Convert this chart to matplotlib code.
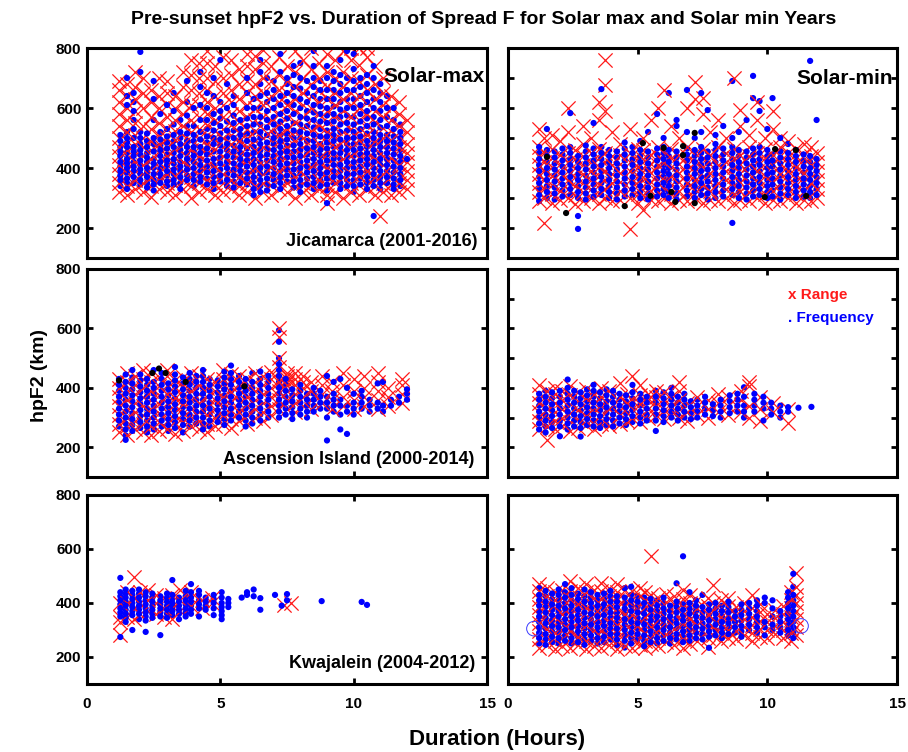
import matplotlib
matplotlib.use("Agg")
import matplotlib.pyplot as plt

plt.rcParams['font.family'] = ['Liberation Sans', 'DejaVu Sans']
plt.rcParams['font.weight'] = 'bold'

# ---------------- data (Duration hours, hpF2 km) ----------------
# Panel A: Jicamarca, solar max
A_DOT_COLS = [
    (1.25, [340, 360, 375, 390, 405, 420, 440, 455, 470, 490, 510]),
    (1.5, [330, 350, 365, 385, 400, 415, 430, 450, 470, 485, 500, 520, 610, 640, 700]),
    (1.75, [350, 370, 390, 405, 420, 440, 455, 470, 500, 530, 560, 590, 620, 650]),
    (2.0, [345, 360, 380, 395, 410, 425, 445, 460, 480, 500, 520, 720, 787]),
    (2.25, [335, 350, 370, 385, 400, 420, 435, 450, 470, 490, 515]),
    (2.5, [325, 345, 360, 380, 400, 415, 430, 455, 480, 500, 560, 630, 690]),
    (2.75, [350, 365, 380, 400, 420, 440, 460, 475, 495, 520, 580]),
    (3.0, [340, 355, 375, 390, 410, 425, 445, 465, 485, 505, 530, 610]),
    (3.25, [345, 360, 380, 395, 415, 430, 450, 470, 490, 510, 545, 590, 650]),
    (3.5, [330, 350, 370, 390, 405, 420, 440, 460, 480, 500, 520, 560]),
    (3.75, [360, 375, 395, 410, 430, 450, 470, 490, 515, 540, 575, 620, 690]),
    (4.0, [340, 360, 380, 400, 420, 440, 455, 470, 490, 510, 540, 600]),
    (4.25, [355, 370, 390, 410, 430, 450, 470, 495, 520, 560, 610, 670, 720]),
    (4.5, [345, 365, 385, 405, 425, 445, 465, 485, 505, 530, 560, 600, 650]),
    (4.75, [330, 350, 370, 390, 410, 430, 455, 480, 500, 525, 550, 580, 640, 700]),
    (5.0, [355, 375, 395, 415, 435, 455, 475, 495, 515, 540, 565, 590, 620, 760]),
    (5.25, [340, 360, 380, 400, 420, 440, 460, 480, 500, 525, 555, 600, 680]),
    (5.5, [335, 355, 375, 395, 415, 435, 455, 475, 500, 525, 550, 575, 610, 640]),
    (5.75, [350, 370, 390, 410, 430, 450, 470, 490, 510, 530, 560]),
    (6.0, [345, 365, 385, 405, 425, 445, 465, 490, 515, 540, 565, 600, 650, 700]),
    (6.25, [310, 330, 350, 370, 390, 410, 430, 450, 470, 495, 520, 545, 570, 600, 630]),
    (6.5, [320, 340, 360, 380, 400, 420, 440, 460, 480, 500, 520, 545, 570, 600, 640, 680, 720, 760]),
    (6.75, [325, 345, 365, 385, 405, 425, 445, 465, 485, 510, 535, 560, 590, 620, 650, 700]),
    (7.0, [340, 360, 380, 400, 420, 440, 460, 480, 500, 520, 545, 570, 600, 630, 660, 690]),
    (7.25, [330, 350, 370, 390, 410, 430, 450, 470, 490, 510, 530, 555, 580, 610, 640, 720, 780]),
    (7.5, [355, 375, 395, 415, 435, 455, 475, 495, 515, 540, 565, 590, 620, 650, 680, 700]),
    (7.75, [335, 355, 375, 395, 415, 435, 455, 475, 500, 525, 550, 580, 610, 640, 670, 710, 740]),
    (8.0, [320, 340, 360, 380, 400, 420, 440, 460, 480, 500, 520, 545, 570, 600, 630, 665, 700, 750]),
    (8.25, [345, 365, 385, 405, 425, 445, 465, 490, 515, 540, 565, 590, 620, 650, 690]),
    (8.5, [330, 350, 370, 390, 410, 430, 450, 470, 490, 510, 535, 560, 585, 610, 640, 670, 700, 740, 790]),
    (8.75, [340, 360, 380, 400, 420, 440, 460, 480, 505, 530, 555, 580, 605, 630, 660, 690]),
    (9.0, [283, 325, 345, 365, 385, 405, 425, 445, 465, 485, 505, 525, 550, 575, 600, 630, 660, 700, 740]),
    (9.25, [350, 370, 390, 410, 430, 450, 470, 490, 510, 530, 555, 580, 605, 630, 660, 690, 720]),
    (9.5, [330, 350, 370, 390, 410, 430, 450, 470, 495, 520, 545, 570, 595, 620, 650, 680, 710, 760]),
    (9.75, [340, 360, 380, 400, 420, 440, 460, 480, 500, 525, 550, 575, 600, 630, 660, 700, 790]),
    (10.0, [320, 340, 360, 380, 400, 420, 440, 460, 480, 500, 520, 545, 570, 600, 630, 660, 690, 730, 780]),
    (10.25, [345, 365, 385, 405, 425, 445, 465, 485, 505, 530, 555, 580, 610, 640, 670, 700]),
    (10.5, [330, 350, 370, 390, 410, 430, 450, 470, 490, 515, 540, 565, 590, 620, 650, 680, 710]),
    (10.75, [240, 340, 360, 380, 400, 420, 440, 460, 480, 500, 520, 545, 570, 600, 630, 660, 700, 740]),
    (11.0, [330, 350, 370, 390, 410, 430, 450, 470, 490, 510, 535, 560, 590, 620, 650, 680]),
    (11.25, [350, 370, 390, 410, 430, 450, 470, 490, 510, 540, 570, 600, 640]),
    (11.5, [330, 345, 365, 385, 405, 425, 445, 465, 485, 505, 530, 560, 600]),
    (11.75, [340, 360, 380, 400, 420, 440, 460, 480, 500, 520, 545]),
    (12.0, [430]),
]
A_X_COLS = [
    (1.2, [320, 350, 380, 410, 440, 470, 500, 540, 580, 620, 660, 690]),
    (1.5, [310, 340, 370, 400, 430, 460, 490, 520, 560, 600, 640, 680]),
    (1.8, [330, 360, 390, 420, 450, 480, 510, 550, 590, 630, 670, 720]),
    (2.1, [320, 350, 380, 410, 440, 470, 500, 540, 600, 650, 700]),
    (2.4, [305, 340, 370, 400, 430, 460, 490, 530, 570, 620, 660]),
    (2.7, [330, 360, 390, 420, 450, 480, 510, 550, 600, 640, 700]),
    (3.0, [320, 350, 380, 410, 440, 470, 500, 530, 570, 610, 650, 690]),
    (3.3, [310, 345, 375, 405, 435, 465, 495, 525, 560, 600, 640]),
    (3.6, [330, 360, 390, 420, 450, 480, 510, 540, 580, 620, 670, 720]),
    (3.9, [300, 340, 370, 400, 430, 460, 490, 520, 560, 610, 660, 710, 760]),
    (4.2, [320, 350, 380, 410, 440, 470, 500, 530, 570, 610, 650, 700, 750]),
    (4.5, [330, 360, 390, 420, 450, 480, 510, 545, 580, 620, 660, 700, 750, 790]),
    (4.8, [310, 345, 375, 405, 435, 465, 495, 525, 560, 600, 640, 690, 740]),
    (5.1, [320, 350, 380, 410, 440, 470, 500, 530, 570, 610, 650, 700, 770]),
    (5.4, [330, 360, 390, 420, 450, 480, 510, 545, 580, 620, 660, 710, 760]),
    (5.7, [310, 340, 370, 400, 430, 460, 490, 520, 555, 590, 630, 680, 730]),
    (6.0, [320, 350, 380, 410, 440, 470, 500, 530, 570, 610, 650, 690, 740, 780]),
    (6.3, [300, 340, 370, 400, 430, 460, 490, 525, 560, 600, 640, 680, 730, 775]),
    (6.6, [320, 350, 380, 410, 440, 470, 500, 530, 570, 610, 650, 700, 750, 795]),
    (6.9, [310, 345, 375, 405, 435, 465, 495, 525, 560, 600, 640, 690, 740]),
    (7.2, [330, 360, 390, 420, 450, 480, 510, 545, 580, 620, 660, 710, 770]),
    (7.5, [320, 350, 380, 410, 440, 470, 500, 530, 570, 610, 650, 690, 740]),
    (7.8, [300, 340, 370, 400, 430, 460, 490, 520, 555, 590, 630, 670, 720, 790]),
    (8.1, [320, 350, 380, 410, 440, 470, 500, 535, 570, 610, 650, 700, 760]),
    (8.4, [310, 345, 375, 405, 435, 465, 495, 525, 560, 600, 640, 680, 730, 800]),
    (8.7, [330, 360, 390, 420, 450, 480, 510, 545, 580, 620, 660, 700, 750]),
    (9.0, [283, 310, 340, 370, 400, 430, 460, 490, 520, 555, 590, 630, 670, 720, 780]),
    (9.3, [320, 350, 380, 410, 440, 470, 500, 535, 570, 610, 650, 700, 760]),
    (9.6, [300, 340, 370, 400, 430, 460, 490, 520, 555, 590, 630, 670, 720, 790]),
    (9.9, [320, 350, 380, 410, 440, 470, 500, 530, 570, 610, 650, 700, 760, 800]),
    (10.2, [310, 345, 375, 405, 435, 465, 495, 525, 560, 600, 640, 690, 745, 800]),
    (10.5, [330, 360, 390, 420, 450, 480, 510, 545, 580, 620, 660, 710, 770, 800]),
    (10.8, [310, 340, 370, 400, 430, 460, 490, 520, 555, 590, 630, 680, 740]),
    (11.0, [240]),
    (11.1, [320, 350, 380, 410, 440, 470, 500, 535, 570, 610, 650, 700]),
    (11.4, [310, 345, 375, 405, 435, 465, 495, 525, 560, 600, 640]),
    (11.7, [320, 350, 380, 410, 440, 470, 500, 540, 580, 620]),
    (12.0, [330, 360, 390, 420, 450, 480, 520, 560]),
]

# Panel B: Jicamarca, solar min
B_DOT_COLS = [
    (1.2, [290, 310, 330, 350, 370, 390, 410, 430, 450, 470]),
    (1.5, [300, 320, 340, 360, 380, 400, 420, 440, 460, 530]),
    (1.8, [295, 315, 335, 355, 375, 395, 415, 435, 455]),
    (2.1, [305, 325, 345, 365, 385, 405, 425, 445, 465]),
    (2.4, [310, 330, 350, 370, 390, 410, 430, 450, 470, 583]),
    (2.7, [197, 240, 300, 320, 340, 360, 380, 400, 420, 440]),
    (3.0, [295, 315, 335, 355, 375, 395, 415, 435, 455, 475]),
    (3.3, [305, 325, 345, 365, 385, 405, 425, 445, 465, 550]),
    (3.6, [310, 330, 350, 370, 390, 410, 430, 450, 470, 663]),
    (3.9, [300, 320, 340, 360, 380, 400, 420, 440, 460]),
    (4.2, [295, 315, 335, 355, 375, 395, 415, 435, 455]),
    (4.5, [305, 325, 345, 365, 385, 405, 425, 445, 465, 485]),
    (4.8, [310, 330, 350, 370, 390, 410, 430, 450, 470]),
    (5.1, [300, 320, 340, 360, 380, 400, 420, 440, 460, 490]),
    (5.4, [295, 315, 335, 355, 375, 395, 415, 435, 455, 520]),
    (5.75, [305, 325, 345, 365, 385, 405, 425, 445, 465, 580]),
    (6.0, [310, 330, 350, 370, 390, 410, 430, 450, 470, 500]),
    (6.2, [300, 320, 340, 360, 380, 400, 420, 440, 460, 650]),
    (6.5, [295, 315, 335, 355, 375, 395, 415, 435, 455, 540, 560]),
    (6.9, [305, 325, 345, 365, 385, 405, 425, 445, 465, 520, 660]),
    (7.2, [300, 320, 340, 360, 380, 400, 420, 440, 460, 500]),
    (7.45, [310, 330, 350, 370, 390, 410, 430, 450, 470, 520, 650]),
    (7.7, [295, 315, 335, 355, 375, 395, 415, 435, 455, 593]),
    (8.0, [300, 320, 340, 360, 380, 400, 420, 440, 460, 480, 510]),
    (8.3, [305, 325, 345, 365, 385, 405, 425, 445, 465, 540]),
    (8.65, [217, 310, 330, 350, 370, 390, 410, 430, 450, 470, 500, 690]),
    (8.9, [300, 320, 340, 360, 380, 400, 420, 440, 460, 520]),
    (9.2, [295, 315, 335, 355, 375, 395, 415, 435, 455, 560]),
    (9.45, [305, 325, 345, 365, 385, 405, 425, 445, 465, 633, 707]),
    (9.7, [310, 330, 350, 370, 390, 410, 430, 450, 470, 590, 623]),
    (10.0, [300, 320, 340, 360, 380, 400, 420, 440, 460, 530]),
    (10.2, [305, 325, 345, 365, 385, 405, 425, 445, 633]),
    (10.5, [295, 315, 335, 355, 375, 395, 415, 435, 455, 500]),
    (10.8, [310, 330, 350, 370, 390, 410, 430, 450, 480]),
    (11.1, [300, 320, 340, 360, 380, 400, 420, 440, 460]),
    (11.4, [305, 325, 345, 365, 385, 405, 425, 445]),
    (11.65, [300, 320, 340, 360, 380, 400, 420, 440, 757]),
    (11.9, [310, 330, 350, 370, 390, 410, 430, 560]),
]
B_X_COLS = [
    (1.2, [290, 320, 350, 380, 410, 440, 470, 530]),
    (1.4, [217, 300, 330, 360, 390, 420, 450, 500]),
    (1.7, [285, 315, 345, 375, 405, 435, 465, 510]),
    (2.0, [295, 325, 355, 385, 415, 445, 490]),
    (2.3, [300, 330, 360, 390, 420, 450, 520, 600]),
    (2.6, [280, 310, 340, 370, 400, 430, 460]),
    (2.9, [290, 320, 350, 380, 410, 440, 480, 540]),
    (3.2, [300, 330, 360, 390, 420, 450, 500]),
    (3.5, [285, 315, 345, 375, 405, 435, 465, 560, 620]),
    (3.75, [300, 330, 360, 390, 420, 450, 590, 677, 760]),
    (4.0, [290, 320, 350, 380, 410, 440, 520]),
    (4.3, [295, 325, 355, 385, 415, 445, 480]),
    (4.7, [197, 300, 330, 360, 390, 420, 450, 530]),
    (5.0, [285, 315, 345, 375, 405, 435, 465]),
    (5.2, [260, 310, 340, 370, 400, 430, 460, 500]),
    (5.5, [295, 325, 355, 385, 415, 445, 560]),
    (5.8, [290, 320, 350, 380, 410, 440, 470, 600]),
    (6.0, [300, 330, 360, 390, 420, 450, 660]),
    (6.3, [285, 315, 345, 375, 405, 435, 465, 540]),
    (6.6, [295, 325, 355, 385, 415, 445, 500]),
    (6.9, [290, 320, 350, 380, 410, 440, 470, 600]),
    (7.2, [300, 330, 360, 390, 420, 450, 630, 687]),
    (7.5, [285, 315, 345, 375, 405, 435, 465, 580, 633]),
    (7.8, [295, 325, 355, 385, 415, 445, 520]),
    (8.1, [290, 320, 350, 380, 410, 440, 470, 560]),
    (8.4, [300, 330, 360, 390, 420, 450, 500]),
    (8.7, [285, 315, 345, 375, 405, 435, 465, 700]),
    (8.95, [295, 325, 355, 385, 415, 445, 540, 593]),
    (9.3, [290, 320, 350, 380, 410, 440, 470, 510]),
    (9.6, [300, 330, 360, 390, 420, 450, 560, 620]),
    (9.9, [285, 315, 345, 375, 405, 435, 465, 500]),
    (10.2, [295, 325, 355, 385, 415, 445, 530, 590]),
    (10.5, [290, 320, 350, 380, 410, 440, 470, 500]),
    (10.8, [300, 330, 360, 390, 420, 450, 490]),
    (11.1, [285, 315, 345, 375, 405, 435, 465]),
    (11.4, [295, 325, 355, 385, 415, 445, 480]),
    (11.7, [290, 320, 350, 380, 410, 440, 470]),
    (11.9, [300, 330, 360, 390, 420, 450]),
]
B_BLACK_X = [1.5, 2.24, 5.2, 6.0, 6.75, 7.2, 6.75, 4.5, 5.5, 6.45, 7.2, 9.9, 10.3, 11.1, 11.5, 6.3]
B_BLACK_Y = [437, 250, 483, 467, 473, 517, 443, 273, 307, 287, 283, 303, 463, 460, 307, 320]

# Panel C: Ascension Island, solar max
C_DOT_COLS = [
    (1.2, [270, 290, 310, 330, 350, 370, 390, 410, 430]),
    (1.45, [225, 240, 260, 280, 300, 320, 340, 360, 380, 400, 420, 445]),
    (1.7, [255, 275, 295, 315, 335, 355, 375, 395, 415, 435, 460]),
    (2.0, [265, 285, 305, 325, 345, 365, 385, 405, 425, 445]),
    (2.25, [250, 270, 290, 310, 330, 350, 370, 390, 410, 430]),
    (2.5, [260, 280, 300, 320, 340, 360, 380, 400, 420, 460]),
    (2.8, [270, 290, 310, 330, 350, 370, 390, 410, 430, 450]),
    (3.05, [255, 275, 295, 315, 335, 355, 375, 395, 415]),
    (3.3, [265, 285, 305, 325, 345, 365, 385, 405, 425, 445, 470]),
    (3.6, [250, 275, 295, 315, 335, 355, 375, 395, 415, 435]),
    (3.85, [270, 290, 310, 330, 350, 370, 390, 410, 430, 450]),
    (4.1, [280, 300, 320, 340, 360, 380, 400, 420, 440]),
    (4.35, [260, 280, 300, 320, 340, 360, 380, 400, 420, 440, 460]),
    (4.6, [270, 290, 310, 330, 350, 370, 390, 410, 430]),
    (4.9, [285, 305, 325, 345, 365, 385, 405, 425]),
    (5.15, [275, 295, 315, 335, 355, 375, 395, 415, 435, 455]),
    (5.4, [290, 310, 330, 350, 370, 390, 410, 430, 450, 475]),
    (5.7, [300, 320, 340, 360, 380, 400, 420, 440]),
    (5.95, [270, 290, 310, 330, 350, 370, 390, 410, 430]),
    (6.2, [280, 300, 320, 340, 360, 380, 400, 420, 450]),
    (6.5, [290, 310, 330, 350, 370, 390, 410, 430, 455]),
    (6.8, [300, 320, 340, 360, 380, 400, 420, 440]),
    (7.2, [300, 320, 340, 360, 380, 400, 420, 440, 460, 480, 500, 555, 594]),
    (7.45, [310, 330, 350, 370, 390, 410, 430]),
    (7.7, [295, 315, 335, 355, 375, 395]),
    (8.0, [310, 330, 350, 370, 390, 410]),
    (8.25, [300, 320, 340, 360, 380]),
    (8.5, [320, 340, 360, 380, 400]),
    (8.75, [330, 350, 370, 390]),
    (9.0, [223, 300, 330, 350, 370, 440]),
    (9.25, [320, 340, 360, 380, 420]),
    (9.5, [260, 310, 340, 360, 430]),
    (9.75, [245, 320, 340, 400]),
    (10.0, [310, 330, 350, 380]),
    (10.3, [330, 350, 370, 390]),
    (10.6, [320, 340, 360]),
    (10.9, [330, 350, 415]),
    (11.1, [320, 340, 420]),
    (11.4, [340, 360]),
    (11.7, [350, 370]),
    (12.0, [360, 380, 395]),
]
C_X_COLS = [
    (1.2, [250, 280, 310, 340, 370, 400, 430]),
    (1.5, [240, 270, 300, 330, 360, 390, 420, 450]),
    (1.8, [260, 290, 320, 350, 380, 410, 440]),
    (2.1, [250, 280, 310, 340, 370, 400, 430, 460]),
    (2.4, [240, 270, 300, 330, 360, 390, 420, 450]),
    (2.7, [255, 285, 315, 345, 375, 405, 435]),
    (3.0, [260, 290, 320, 350, 380, 410, 440, 460]),
    (3.3, [245, 275, 305, 335, 365, 395, 425]),
    (3.6, [255, 285, 315, 345, 375, 405, 435]),
    (3.9, [270, 300, 330, 360, 390, 420, 450]),
    (4.2, [260, 290, 320, 350, 380, 410, 440]),
    (4.5, [250, 280, 310, 340, 370, 400, 430]),
    (4.8, [270, 300, 330, 360, 390, 420]),
    (5.1, [280, 310, 340, 370, 400, 430, 460]),
    (5.4, [265, 295, 325, 355, 385, 415, 445]),
    (5.7, [290, 320, 350, 380, 410, 440]),
    (6.0, [280, 310, 340, 370, 400, 430]),
    (6.3, [300, 330, 360, 390, 420, 450]),
    (6.6, [290, 320, 350, 380, 410, 440]),
    (6.9, [310, 340, 370, 400, 430, 455]),
    (7.2, [330, 360, 390, 420, 470, 500, 570, 600]),
    (7.5, [330, 360, 390, 410, 420, 430, 440, 450]),
    (7.8, [320, 350, 380, 410, 430, 450]),
    (8.1, [340, 370, 400, 420, 440]),
    (8.4, [330, 360, 390, 420]),
    (8.8, [350, 380, 410, 440]),
    (9.2, [330, 360, 390, 420]),
    (9.6, [340, 370, 410, 450]),
    (10.0, [330, 360, 390, 430]),
    (10.4, [340, 370, 400, 440]),
    (10.9, [330, 360, 390, 420, 450]),
    (11.3, [340, 370, 400]),
    (11.8, [350, 380, 410, 430]),
]
C_BLACK_X = [1.2, 2.45, 2.7, 2.95, 3.7, 5.9]
C_BLACK_Y = [425, 450, 465, 450, 420, 405]

# Panel D: Ascension Island, solar min
D_DOT_COLS = [
    (1.2, [260, 280, 300, 320, 340, 360, 380]),
    (1.45, [250, 270, 290, 310, 330, 350, 370, 390]),
    (1.7, [265, 285, 305, 325, 345, 365, 385]),
    (2.0, [237, 270, 290, 310, 330, 350, 370, 390]),
    (2.3, [260, 280, 300, 320, 340, 360, 380, 400, 428]),
    (2.55, [270, 290, 310, 330, 350, 370, 390]),
    (2.8, [236, 265, 285, 305, 325, 345, 365, 385]),
    (3.05, [275, 295, 315, 335, 355, 375, 395]),
    (3.3, [270, 290, 310, 330, 350, 370, 390, 410]),
    (3.55, [265, 285, 305, 325, 345, 365, 385]),
    (3.8, [275, 295, 315, 335, 355, 375, 395]),
    (4.05, [270, 290, 310, 330, 350, 370, 390]),
    (4.3, [280, 300, 320, 340, 360, 380]),
    (4.55, [275, 295, 315, 335, 355, 375]),
    (4.8, [285, 305, 325, 345, 365, 385, 410]),
    (5.1, [280, 300, 320, 340, 360, 380]),
    (5.35, [290, 310, 330, 350, 370]),
    (5.7, [255, 290, 310, 330, 350, 370, 390]),
    (6.0, [285, 305, 325, 345, 365, 385]),
    (6.3, [300, 320, 340, 360, 380, 400]),
    (6.55, [290, 310, 330, 350, 370]),
    (6.8, [300, 320, 340, 360, 380]),
    (7.05, [295, 315, 335, 355]),
    (7.3, [300, 320, 340, 360]),
    (7.6, [310, 330, 350, 370]),
    (7.9, [305, 325, 345]),
    (8.2, [300, 320, 340, 360]),
    (8.55, [315, 335, 355, 375]),
    (8.85, [320, 340, 360, 380]),
    (9.1, [300, 320, 340, 370, 402]),
    (9.5, [320, 340, 360, 380]),
    (9.85, [290, 330, 350, 370]),
    (10.15, [310, 330, 350]),
    (10.5, [300, 320, 340]),
    (10.8, [320, 335]),
    (11.2, [333]),
    (11.7, [336]),
]
D_X_COLS = [
    (1.2, [260, 290, 320, 350, 380, 410]),
    (1.5, [226, 270, 300, 330, 360, 390]),
    (1.8, [260, 290, 320, 350, 380, 400]),
    (2.1, [270, 300, 330, 360, 390]),
    (2.4, [255, 285, 315, 345, 375, 405]),
    (2.7, [265, 295, 325, 355, 385]),
    (3.0, [275, 305, 335, 365, 395]),
    (3.3, [260, 290, 320, 350, 380]),
    (3.6, [280, 310, 340, 370, 400]),
    (3.9, [270, 300, 330, 360, 390]),
    (4.3, [280, 310, 340, 370, 417]),
    (4.6, [290, 320, 350, 380]),
    (4.8, [300, 330, 360, 439]),
    (5.1, [285, 315, 345, 375, 410]),
    (5.4, [300, 330, 360, 380]),
    (5.7, [310, 340, 370, 390]),
    (6.0, [295, 325, 355, 385]),
    (6.3, [310, 340, 370]),
    (6.6, [300, 330, 360, 390, 420]),
    (6.9, [290, 320, 350]),
    (7.3, [310, 340, 370]),
    (7.7, [300, 330, 360]),
    (8.1, [320, 350, 380]),
    (8.5, [310, 340, 370]),
    (9.0, [320, 360, 390]),
    (9.3, [300, 340, 405, 420]),
    (9.7, [290, 330, 370]),
    (10.2, [320, 350]),
    (10.8, [283, 330]),
]

# Panel E: Kwajalein, solar max
E_DOT_COLS = [
    (1.25, [274, 350, 365, 380, 395, 410, 425, 440, 493]),
    (1.45, [330, 345, 360, 375, 390, 405, 420, 435, 450]),
    (1.7, [300, 355, 370, 385, 400, 415, 430, 445]),
    (1.95, [340, 360, 375, 390, 405, 420, 435, 450]),
    (2.2, [293, 335, 350, 365, 380, 395, 410, 425, 440]),
    (2.45, [345, 360, 375, 390, 405, 420, 435]),
    (2.75, [281, 350, 365, 380, 395, 410, 425]),
    (3.0, [345, 360, 375, 390, 405, 420, 435]),
    (3.2, [355, 370, 385, 400, 415, 430, 485]),
    (3.45, [340, 360, 375, 390, 405, 420]),
    (3.7, [350, 365, 380, 395, 410, 425, 445]),
    (3.9, [360, 375, 390, 405, 420, 440, 470]),
    (4.2, [350, 380, 395, 410, 430, 445]),
    (4.45, [375, 390, 405, 420]),
    (4.75, [355, 380, 400, 415, 430]),
    (5.05, [340, 355, 370, 385, 400, 420, 440]),
    (5.3, [385, 400, 415]),
    (5.8, [420]),
    (6.0, [430, 440]),
    (6.25, [425, 450]),
    (6.5, [375, 418]),
    (7.05, [430]),
    (7.3, [390]),
    (7.5, [410, 433]),
    (8.8, [407]),
    (10.3, [404]),
    (10.5, [393]),
]
E_X_COLS = [
    (1.25, [280, 330, 350, 400]),
    (1.5, [350, 400, 440]),
    (1.75, [340, 380, 420, 495]),
    (2.0, [360, 400, 440]),
    (2.3, [370, 410, 450]),
    (2.6, [360, 400, 430]),
    (2.9, [350, 380, 420]),
    (3.2, [340, 390, 430]),
    (3.5, [370, 410, 450]),
    (3.9, [390, 420, 440]),
    (4.3, [380, 410]),
    (4.7, [400, 420]),
    (7.4, [393]),
    (7.65, [400]),
]

# Panel F: Kwajalein, solar min
F_DOT_COLS = [
    (1.2, [250, 270, 290, 310, 330, 350, 370, 390, 410, 430, 455]),
    (1.45, [245, 265, 285, 305, 325, 345, 365, 385, 405, 425, 445]),
    (1.7, [255, 275, 295, 315, 335, 355, 375, 395, 415, 435]),
    (1.95, [250, 270, 290, 310, 330, 350, 370, 390, 410, 430, 450]),
    (2.2, [260, 280, 300, 320, 340, 360, 380, 400, 420, 440, 470]),
    (2.45, [250, 270, 290, 310, 330, 350, 370, 390, 410, 430, 455]),
    (2.7, [255, 275, 295, 315, 335, 355, 375, 395, 415, 435]),
    (2.95, [245, 265, 285, 305, 325, 345, 365, 385, 405, 425, 450]),
    (3.2, [260, 280, 300, 320, 340, 360, 380, 400, 420, 440]),
    (3.45, [250, 270, 290, 310, 330, 350, 370, 390, 410, 430]),
    (3.7, [255, 275, 295, 315, 335, 355, 375, 395, 415, 435]),
    (3.95, [265, 285, 305, 325, 345, 365, 385, 405, 425, 445]),
    (4.2, [245, 265, 285, 305, 325, 345, 365, 385, 405, 425]),
    (4.5, [235, 260, 280, 300, 320, 340, 360, 380, 400, 420, 455]),
    (4.75, [250, 270, 290, 310, 330, 350, 370, 390, 410, 430, 460]),
    (5.0, [265, 285, 305, 325, 345, 365, 385, 405, 425]),
    (5.25, [240, 260, 280, 300, 320, 340, 360, 380, 400, 420]),
    (5.5, [255, 275, 295, 315, 335, 355, 375, 395, 415]),
    (5.75, [250, 270, 290, 310, 330, 350, 370, 390, 410]),
    (6.0, [260, 280, 300, 320, 340, 360, 380, 400, 420]),
    (6.25, [250, 270, 290, 310, 330, 350, 370, 390]),
    (6.5, [265, 285, 305, 325, 345, 365, 385, 405, 473]),
    (6.75, [255, 275, 295, 315, 335, 355, 375, 395, 573]),
    (7.0, [260, 280, 300, 320, 340, 360, 380, 400, 440]),
    (7.25, [270, 290, 310, 330, 350, 370, 390, 410]),
    (7.5, [265, 285, 305, 325, 345, 365, 385, 430]),
    (7.75, [234, 275, 295, 315, 335, 355, 375, 395]),
    (8.0, [280, 300, 320, 340, 360, 380, 400]),
    (8.25, [270, 290, 310, 330, 350, 370, 390]),
    (8.5, [285, 305, 325, 345, 365, 385, 405]),
    (8.75, [290, 310, 330, 350, 370]),
    (9.0, [275, 295, 315, 335, 355, 375, 395]),
    (9.3, [300, 320, 340, 360, 380, 400]),
    (9.6, [290, 310, 330, 350, 370, 390, 410]),
    (9.9, [280, 310, 330, 400, 420]),
    (10.2, [300, 320, 350, 380, 410]),
    (10.5, [290, 310, 330, 350, 370]),
    (10.8, [280, 300, 320, 340, 360, 380, 400, 420, 440]),
    (11.0, [270, 290, 310, 330, 350, 370, 390, 410, 430, 460, 508]),
]
F_X_COLS = [
    (1.2, [235, 265, 295, 325, 355, 385, 415, 445, 470]),
    (1.5, [245, 275, 305, 335, 365, 395, 425, 455]),
    (1.8, [230, 260, 290, 320, 350, 380, 410, 440]),
    (2.1, [240, 270, 300, 330, 360, 390, 420, 450]),
    (2.4, [235, 265, 295, 325, 355, 385, 415, 445, 480]),
    (2.7, [245, 275, 305, 335, 365, 395, 425, 455]),
    (3.0, [230, 260, 290, 320, 350, 380, 410, 440, 470]),
    (3.3, [240, 270, 300, 330, 360, 390, 420, 450]),
    (3.6, [235, 265, 295, 325, 355, 385, 415, 445, 475]),
    (3.9, [245, 275, 305, 335, 365, 395, 425, 455]),
    (4.2, [230, 260, 290, 320, 350, 380, 410, 440, 470]),
    (4.5, [240, 270, 300, 330, 360, 390, 420, 450]),
    (4.8, [235, 265, 295, 325, 355, 385, 415, 445]),
    (5.1, [245, 275, 305, 335, 365, 395, 425, 455]),
    (5.3, [234, 260, 290, 320, 350, 380, 410, 440]),
    (5.5, [250, 280, 310, 340, 370, 400, 430, 573]),
    (5.8, [240, 270, 300, 330, 360, 390, 420]),
    (6.1, [255, 285, 315, 345, 375, 405, 435]),
    (6.4, [245, 275, 305, 335, 365, 395, 425]),
    (6.75, [234, 265, 295, 325, 355, 385, 415, 450]),
    (7.0, [250, 280, 310, 340, 370, 400, 430]),
    (7.3, [260, 290, 320, 350, 380, 410]),
    (7.7, [236, 270, 300, 330, 360, 390, 420]),
    (7.9, [280, 310, 340, 370, 400, 467]),
    (8.2, [260, 290, 320, 350, 380, 410]),
    (8.5, [270, 300, 330, 360, 390, 420]),
    (8.8, [265, 295, 325, 355, 385]),
    (9.1, [280, 310, 340, 370, 400]),
    (9.4, [260, 290, 320, 350, 380, 430]),
    (9.7, [275, 305, 335, 365, 395]),
    (10.0, [270, 300, 330, 360]),
    (10.3, [285, 315, 345, 375]),
    (10.6, [270, 300, 330, 360, 390]),
    (10.9, [260, 290, 320, 350, 380, 410, 440]),
    (11.1, [280, 310, 340, 370, 400, 430, 460, 510]),
]
F_CIRCLE_X = [1.0, 11.3]
F_CIRCLE_Y = [305, 315]

TITLE = "Pre-sunset hpF2 vs. Duration of Spread F for Solar max and Solar min Years"
XTICKS = [0, 5, 10, 15]
YTICKS_LEFT = [200, 400, 600, 800]


def flat(cols):
    xs = [x for x, ys in cols for _ in ys]
    yv = [y for _, ys in cols for y in ys]
    return xs, yv


def split_alt(xs, ys):
    # alternate points into two drawing passes (interleaved layering)
    return (xs[0::2], ys[0::2]), (xs[1::2], ys[1::2])


W, H = 908, 752
fig = plt.figure(figsize=(W / 100, H / 100), dpi=100)


def rect(x0, x1, y0, y1):
    return [x0 / W, 1 - y1 / H, (x1 - x0) / W, (y1 - y0) / H]


cols_px = [(87, 487), (508, 897)]
rows_px = [(48, 258), (269, 477), (495, 684)]

panels = [
    (0, 0, A_X_COLS, A_DOT_COLS, None),
    (0, 1, B_X_COLS, B_DOT_COLS, (B_BLACK_X, B_BLACK_Y)),
    (1, 0, C_X_COLS, C_DOT_COLS, (C_BLACK_X, C_BLACK_Y)),
    (1, 1, D_X_COLS, D_DOT_COLS, None),
    (2, 0, E_X_COLS, E_DOT_COLS, None),
    (2, 1, F_X_COLS, F_DOT_COLS, None),
]

RED = '#ff1a1a'
BLUE = '#0000ff'
axes = {}
for r, c, xcols, dcols, black in panels:
    ax = fig.add_axes(rect(*cols_px[c], *rows_px[r]))
    axes[(r, c)] = ax
    rx, ry = flat(xcols)
    bx, by = flat(dcols)
    (r1, r2) = split_alt(rx, ry)
    (b1, b2) = split_alt(bx, by)
    ax.scatter(r1[0], r1[1], marker='x', s=105, c=RED, linewidths=0.9, zorder=2)
    ax.scatter(b1[0], b1[1], marker='o', s=20, c=BLUE, edgecolors='none', zorder=3)
    ax.scatter(r2[0], r2[1], marker='x', s=105, c=RED, linewidths=0.9, zorder=4)
    ax.scatter(b2[0], b2[1], marker='o', s=20, c=BLUE, edgecolors='none', zorder=5)
    if black is not None:
        ax.scatter(black[0], black[1], marker='o', s=20, c='black', edgecolors='none', zorder=5)
    ax.set_xlim(0, 15)
    ax.set_ylim(100, 800)
    ax.set_xticks(XTICKS)
    if c == 0:
        ax.set_yticks(YTICKS_LEFT)
    else:
        if r == 2:
            ax.set_yticks([200, 400, 600, 800])
        else:
            ax.set_yticks([200, 300, 400, 500, 600, 700, 800])
        ax.set_yticklabels([])
    if r != 2:
        ax.set_xticklabels([])
    for s in ax.spines.values():
        s.set_linewidth(2.2)
        s.set_zorder(10)
    ax.tick_params(direction='in', length=4, width=2, top=True, right=True,
                   labelsize=11, pad=4)
    ax.tick_params(axis='x', pad=9)
    for lab in ax.get_xticklabels() + ax.get_yticklabels():
        lab.set_fontweight('bold')

axF = axes[(2, 1)]
axF.scatter(F_CIRCLE_X, F_CIRCLE_Y, marker='o', s=110, facecolors='none',
            edgecolors='#3a3aff', linewidths=0.7, zorder=6)

axes[(0, 0)].text(0.995, 0.865, "Solar-max", transform=axes[(0, 0)].transAxes,
                  ha='right', va='center', fontsize=15, fontweight='bold', zorder=7)
axes[(0, 1)].text(0.99, 0.855, "Solar-min", transform=axes[(0, 1)].transAxes,
                  ha='right', va='center', fontsize=15, fontweight='bold', zorder=7)
axes[(0, 0)].text(0.975, 0.078, "Jicamarca (2001-2016)", transform=axes[(0, 0)].transAxes,
                  ha='right', va='center', fontsize=13, fontweight='bold', zorder=7)
axes[(1, 0)].text(0.968, 0.082, "Ascension Island (2000-2014)", transform=axes[(1, 0)].transAxes,
                  ha='right', va='center', fontsize=13, fontweight='bold', zorder=7)
axes[(2, 0)].text(0.97, 0.11, "Kwajalein (2004-2012)", transform=axes[(2, 0)].transAxes,
                  ha='right', va='center', fontsize=13, fontweight='bold', zorder=7)
axes[(1, 1)].text(0.72, 0.875, "x Range", transform=axes[(1, 1)].transAxes,
                  ha='left', va='center', fontsize=11, fontweight='bold', color=RED, zorder=7)
axes[(1, 1)].text(0.72, 0.764, ". Frequency", transform=axes[(1, 1)].transAxes,
                  ha='left', va='center', fontsize=11, fontweight='bold', color=BLUE, zorder=7)

fig.text(484 / W, 1 - 20 / H, TITLE, ha='center', va='center', fontsize=14, fontweight='bold')
fig.text(497 / W, 1 - 740 / H, "Duration (Hours)", ha='center', va='center', fontsize=16, fontweight='bold')
fig.text(40 / W, 0.5, "hpF2 (km)", ha='center', va='center', rotation=90, fontsize=14, fontweight='bold')

fig.savefig("out.png", dpi=100)
